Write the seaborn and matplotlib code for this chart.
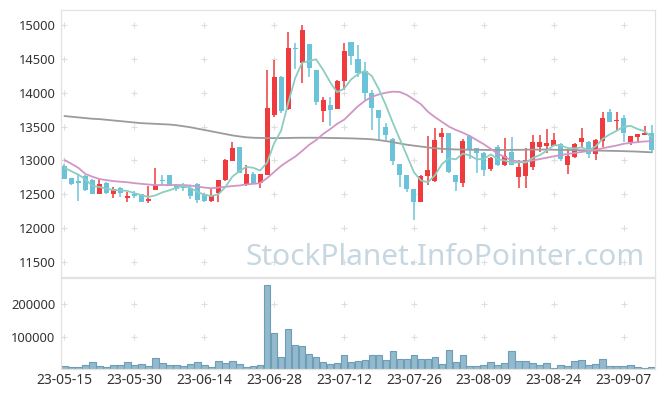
import numpy as np
import pandas as pd
import matplotlib
matplotlib.use("Agg")
import matplotlib.pyplot as plt
import seaborn as sns

# trading days (KRX holidays skipped)
dates = pd.bdate_range("2023-05-15", periods=85, freq="C",
                       holidays=["2023-05-29", "2023-06-06", "2023-08-15"])

open_ = [12920, 12740, 12700, 12765, 12710, 12510, 12665, 12505, 12590, 12450,
         12510, 12500, 12405, 12565, 12715, 12785, 12640, 12630, 12600, 12650,
         12505, 12405, 12515, 12710, 12990, 13200, 12640, 12800, 12660, 12785,
         13670, 14235, 13755, 14665, 14445, 14725, 14335, 13735, 13815, 13760,
         14175, 14755, 14500, 14320, 13990, 13745, 13500, 13315, 12945, 12780,
         12580, 12390, 12770, 12700, 13345, 13400, 12785, 12670, 13360, 13180,
         13105, 12870, 13195, 12930, 13120, 12750, 12770, 12905, 13205, 13220,
         13220, 13245, 12935, 13055, 13270, 13270, 13090, 13290, 13715, 13585,
         13620, 13270, 13350, 13380, 13405]
high = [12950, 12745, 12780, 12790, 12725, 12725, 12680, 12605, 12605, 12535,
        12550, 12505, 12630, 12890, 12785, 12785, 12645, 12660, 12625, 12660,
        12525, 12590, 12715, 13020, 13270, 13200, 12930, 12835, 12800, 14335,
        14475, 14240, 14890, 14740, 15000, 14725, 14335, 13935, 13940, 14190,
        14730, 14755, 14705, 14460, 14040, 13745, 13550, 13330, 12950, 12785,
        12580, 12790, 13365, 13480, 13475, 13410, 12790, 13310, 13370, 13190,
        13130, 13055, 13230, 13335, 13340, 13005, 13185, 13375, 13375, 13460,
        13400, 13260, 13180, 13260, 13475, 13290, 13320, 13720, 13755, 13720,
        13670, 13365, 13395, 13510, 13525]
low = [12720, 12635, 12400, 12555, 12500, 12500, 12510, 12445, 12465, 12380,
       12440, 12390, 12365, 12560, 12640, 12620, 12555, 12555, 12425, 12375,
       12390, 12390, 12385, 12700, 12985, 12810, 12630, 12650, 12590, 12785,
       13645, 13705, 13750, 14345, 14150, 14235, 13820, 13570, 13510, 13760,
       14040, 14410, 14235, 13890, 13450, 13300, 13300, 12930, 12605, 12540,
       12120, 12390, 12635, 12680, 13105, 12820, 12550, 12605, 13020, 12820,
       12770, 12850, 12920, 12920, 12930, 12595, 12595, 12860, 13130, 13105,
       13215, 12990, 12800, 13040, 13205, 13035, 13005, 13205, 13560, 13450,
       13275, 13230, 13260, 13375, 13105]
close = [12730, 12650, 12670, 12565, 12505, 12650, 12525, 12575, 12525, 12480,
         12475, 12390, 12435, 12640, 12700, 12630, 12575, 12590, 12480, 12415,
         12405, 12485, 12710, 13005, 13185, 12820, 12800, 12650, 12800, 13780,
         14235, 13735, 14665, 14645, 14925, 14370, 13860, 13890, 13745, 14175,
         14615, 14545, 14295, 13990, 13770, 13630, 13370, 12995, 12785, 12585,
         12390, 12770, 12860, 13300, 13400, 12835, 12685, 13290, 13155, 13115,
         12860, 13030, 12930, 13065, 12935, 12905, 13005, 13275, 13270, 13260,
         13300, 13020, 13065, 13245, 13330, 13090, 13300, 13625, 13570, 13600,
         13400, 13360, 13390, 13410, 13155]
volume = [10000, 6000, 6000, 13000, 22000, 9000, 6000, 12000, 12000, 22000,
          13000, 16000, 10000, 35000, 20000, 13000, 13000, 10000, 16000, 22000,
          13000, 6000, 25000, 20000, 25000, 16000, 6000, 9000, 13000, 260000,
          110000, 38000, 122000, 75000, 72000, 45000, 38000, 22000, 16000, 19000,
          42000, 22000, 25000, 29000, 42000, 42000, 29000, 55000, 32000, 32000,
          42000, 32000, 32000, 38000, 16000, 58000, 22000, 42000, 9000, 9000,
          13000, 22000, 13000, 19000, 55000, 25000, 25000, 19000, 13000, 19000,
          3000, 13000, 9000, 25000, 29000, 13000, 16000, 32000, 9000, 9000,
          9000, 13000, 6000, 3000, 6000]
# 5-day average as drawn (first days include earlier history), 20-day and long averages
ma5_start = [12890, 12840, 12790, 12720]
ma20 = [13006, 12950, 12890, 12800, 12760, 12725, 12710, 12695, 12686, 12678,
        12665, 12655, 12645, 12637, 12637, 12637, 12637, 12637, 12630, 12615,
        12600, 12590, 12600, 12610, 12622, 12630, 12645, 12655, 12665, 12740,
        12830, 12920, 12990, 13055, 13140, 13230, 13300, 13390, 13460, 13540,
        13600, 13700, 13800, 13880, 13940, 13975, 14000, 14015, 14010, 13966,
        13900, 13830, 13720, 13640, 13570, 13500, 13450, 13410, 13360, 13300,
        13240, 13170, 13100, 13050, 13000, 12985, 12985, 13000, 13020, 13040,
        13060, 13080, 13095, 13110, 13125, 13140, 13155, 13180, 13200, 13220,
        13245, 13260, 13270, 13280, 13285]
ma60 = [13655, 13645, 13635, 13625, 13615, 13610, 13600, 13590, 13580, 13570,
        13560, 13550, 13545, 13540, 13535, 13530, 13520, 13505, 13490, 13470,
        13450, 13430, 13410, 13390, 13370, 13355, 13342, 13335, 13332, 13330,
        13330, 13330, 13332, 13334, 13335, 13335, 13335, 13334, 13332, 13330,
        13328, 13326, 13322, 13318, 13312, 13300, 13285, 13270, 13250, 13232,
        13218, 13205, 13192, 13180, 13172, 13166, 13162, 13160, 13158, 13157,
        13156, 13155, 13155, 13155, 13156, 13157, 13158, 13160, 13160, 13160,
        13158, 13156, 13154, 13152, 13150, 13148, 13146, 13144, 13142, 13140,
        13137, 13134, 13130, 13125, 13120]

price_ticks = [11500, 12000, 12500, 13000, 13500, 14000, 14500, 15000]
vol_ticks = [100000, 200000]
date_ticks = list(range(0, 85, 10))

RED = "#ef3b3d"
BLUE = "#6bc3da"

df = pd.DataFrame({"date": dates, "open": open_, "high": high, "low": low,
                   "close": close, "volume": volume, "ma20": ma20, "ma60": ma60})
df["idx"] = np.arange(len(df))
df["ma5"] = df["close"].rolling(5).mean()
df.loc[:len(ma5_start) - 1, "ma5"] = ma5_start

sns.set_theme(style="white")
plt.rcParams["font.family"] = ["Noto Sans", "DejaVu Sans"]

fig = plt.figure(figsize=(6.65, 3.96), dpi=100)
ax = fig.add_axes([61 / 665, 119 / 396, 594 / 665, 267 / 396])
axv = fig.add_axes([61 / 665, 27 / 396, 594 / 665, 91 / 396])

# grid crosses at tick intersections
gx, gy = np.meshgrid(date_ticks, price_ticks)
ax.scatter(gx.ravel(), gy.ravel(), marker="+", s=20, color="#dedede", linewidths=0.8, zorder=0)
gx, gy = np.meshgrid(date_ticks, vol_ticks)
axv.scatter(gx.ravel(), gy.ravel(), marker="+", s=20, color="#dedede", linewidths=0.8, zorder=0)

# candles
up = df["close"] >= df["open"]
colors = np.where(up, RED, BLUE)
ax.vlines(df["idx"], df["low"], df["high"], colors=colors, linewidth=1.1, zorder=2)
body = (df["close"] - df["open"]).abs().clip(lower=14)
ax.bar(df["idx"], body, bottom=np.minimum(df["open"], df["close"]),
       width=0.72, color=colors, linewidth=0, zorder=3)

# moving averages
sns.lineplot(data=df, x="idx", y="ma60", ax=ax, color="#9b9b9b", linewidth=1.3, zorder=4)
sns.lineplot(data=df, x="idx", y="ma20", ax=ax, color="#d096c6", linewidth=1.3, zorder=4)
sns.lineplot(data=df, x="idx", y="ma5", ax=ax, color="#8ccdc2", linewidth=1.3, zorder=5)

# volume
sns.barplot(data=df, x="idx", y="volume", ax=axv, native_scale=True, width=0.95,
            color="#93b9cd", edgecolor="#6e9db7", linewidth=0.8, saturation=1,
            errorbar=None, zorder=2)

ax.text(0.983, 0.045, "StockPlanet.InfoPointer.com", transform=ax.transAxes,
        ha="right", va="baseline", fontsize=21.5, color="#c6d7e2", zorder=1)

for a in (ax, axv):
    a.set_xlim(-0.5, len(df) - 0.5)
    a.set_xticks(date_ticks)
    a.set_xlabel("")
    a.set_ylabel("")
    a.tick_params(length=0, labelsize=9.3, labelcolor="#333333", pad=4)
    for s in a.spines.values():
        s.set_color("#e2e2e2")
        s.set_linewidth(0.9)

ax.set_ylim(11280, 15220)
ax.set_yticks(price_ticks)
ax.tick_params(labelbottom=False)

axv.set_ylim(0, 281000)
axv.set_yticks(vol_ticks)
axv.set_xticklabels([df["date"][i].strftime("%y-%m-%d") for i in date_ticks])
axv.tick_params(axis="x", labelsize=10, pad=3)

fig.savefig("out.png", dpi=100)
